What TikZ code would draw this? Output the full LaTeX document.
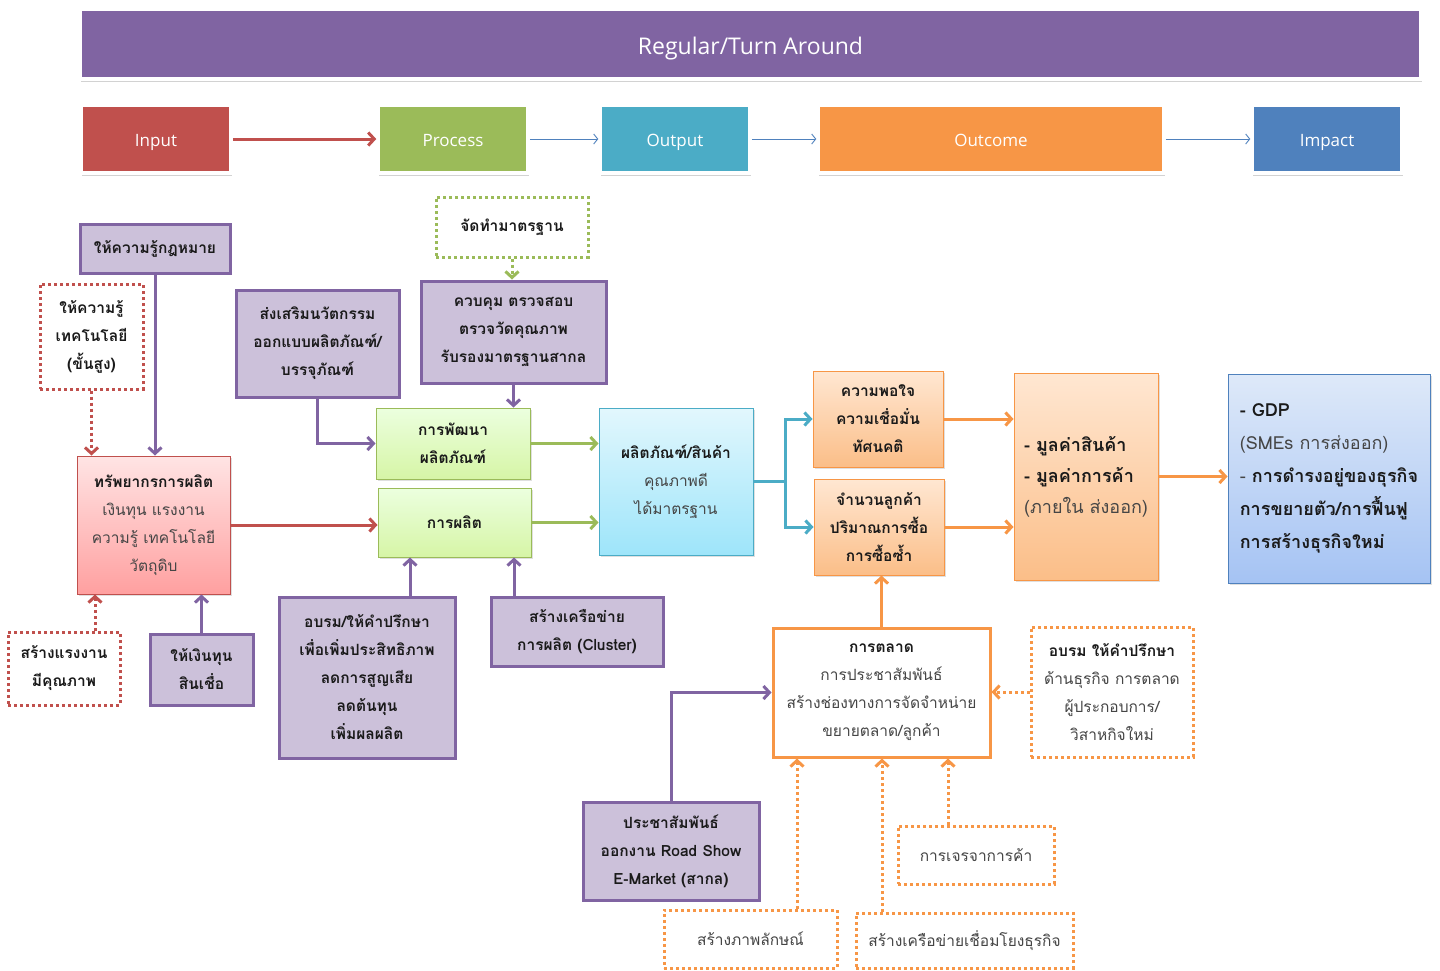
\documentclass[tikz,border=0pt]{standalone}
\usepackage{fontspec}
\setmainfont{Open Sans}
\newfontfamily\thai[Script=Thai]{Loma}
\usetikzlibrary{arrows.meta,shadows,calc}
\definecolor{pur}{HTML}{8064A2}
\definecolor{purf}{HTML}{CCC1DA}
\definecolor{red1}{HTML}{C0504D}
\definecolor{grn}{HTML}{9BBB59}
\definecolor{teal1}{HTML}{4BACC6}
\definecolor{org}{HTML}{F79646}
\definecolor{blu}{HTML}{4F81BD}
\definecolor{txt}{HTML}{1A1A1A}
\definecolor{gtx}{HTML}{454545}
\newcommand{\bx}[7]{\node[#6, minimum width={(#4-#2)*1pt}, minimum height={(#5-#3)*1pt}] (#1) at ({(#2+#4)/2},{(#3+#5)/2}) {#7};}
\newcommand{\gr}{\color{gtx}\mdseries}
\tikzset{
  shd/.style={drop shadow={opacity=0.25,shadow xshift=1.5pt,shadow yshift=-2pt}},
  base/.style={inner sep=0pt, align=center, font=\thai\bfseries\fontsize{15.5}{28}\selectfont, text=txt},
  hdr/.style={draw=white, line width=3.5pt, text=white, text height=14.1pt, text depth=0pt, font=\fontsize{17}{20}\selectfont, drop shadow={opacity=0.35,shadow xshift=1pt,shadow yshift=-2.5pt}},
  pbox/.style={base, fill=purf, draw=pur, line width=3pt, shd},
  rdot/.style={base, fill=white, draw=red1, line width=3pt, dash pattern=on 3pt off 3pt},
  gdot/.style={base, fill=white, draw=grn, line width=3pt, dash pattern=on 3pt off 3pt},
  odot/.style={base, fill=white, draw=org, line width=3pt, dash pattern=on 3pt off 3pt},
  gbox/.style={base, draw=grn, line width=1pt, top color=green!8!white!95!yellow, bottom color={rgb,255:red,214;green,245;blue,166}, shd},
  cbox/.style={base, draw=teal1, line width=1pt, top color={rgb,255:red,226;green,247;blue,253}, bottom color={rgb,255:red,158;green,229;blue,250}, shd},
  rbox/.style={base, draw=red1, line width=1pt, top color={rgb,255:red,255;green,228;blue,228}, bottom color={rgb,255:red,255;green,160;blue,160}, shd},
  obox/.style={base, draw=org, line width=1pt, top color={rgb,255:red,255;green,231;blue,210}, bottom color={rgb,255:red,251;green,190;blue,136}, shd},
  bbox/.style={base, draw=blu, line width=1pt, top color={rgb,255:red,222;green,233;blue,249}, bottom color={rgb,255:red,165;green,195;blue,243}, shd},
  wbox/.style={base, fill=white, draw=org, line width=3pt},
  tip/.style={-{Straight Barb[length=6pt,width=13pt]}},
  parr/.style={draw=pur, line width=3pt, tip},
  rarr/.style={draw=red1, line width=3pt, tip},
  garr/.style={draw=grn, line width=3pt, tip},
  tarr/.style={draw=teal1, line width=3pt, tip},
  oarr/.style={draw=org, line width=3pt, tip},
  dotted3/.style={dash pattern=on 3pt off 3pt},
  thin/.style={draw=blu, line width=0.9pt, -{Straight Barb[length=4pt,width=10pt]}},
}
\begin{document}
\begin{tikzpicture}[x=1pt,y=-1pt]
\useasboundingbox[fill=white] (0,0) rectangle (1440,970);
% header
\bx{top}{80}{9}{1421}{79}{hdr, fill=pur, text height=20.4pt, font=\fontsize{23}{26}\selectfont}{Regular/Turn Around}
\bx{hin}{81}{105}{231}{173}{hdr, fill=red1}{Input}
\bx{hpr}{378}{105}{528}{173}{hdr, fill=grn}{Process}
\bx{hou}{600}{105}{750}{173}{hdr, fill=teal1}{Output}
\bx{hoc}{818}{105}{1164}{173}{hdr, fill=org}{Outcome}
\bx{him}{1252}{105}{1402}{173}{hdr, fill=blu}{Impact}
\draw[rarr] (hin.east) -- (hpr.west);
\draw[thin] (hpr.east) -- (hou.west);
\draw[thin] (hou.east) -- (hoc.west);
\draw[thin] (hoc.east) -- (him.west);
% boxes
\bx{a1}{80}{224}{230}{273}{pbox}{ให้ความรู้กฎหมาย}
\bx{a2}{40}{284}{143}{389}{rdot}{ให้ความรู้\\เทคโนโลยี\\(ขั้นสูง)}
\bx{a3}{236}{290}{399}{397}{pbox}{ส่งเสริมนวัตกรรม\\ออกแบบผลิตภัณฑ์/\\บรรจุภัณฑ์}
\bx{a4}{436}{197}{588}{257}{gdot}{จัดทำมาตรฐาน}
\bx{a5}{421}{281}{606}{383}{pbox}{ควบคุม ตรวจสอบ\\ตรวจวัดคุณภาพ\\รับรองมาตรฐานสากล}
\bx{dev}{376}{408}{530}{479}{gbox}{การพัฒนา\\ผลิตภัณฑ์}
\bx{prod}{378}{488}{531}{557}{gbox}{การผลิต}
\bx{pq}{599}{408}{753}{555}{cbox}{ผลิตภัณฑ์/สินค้า\\{\gr คุณภาพดี}\\{\gr ได้มาตรฐาน}}
\bx{res}{77}{456}{230}{594}{rbox}{ทรัพยากรการผลิต\\{\gr เงินทุน แรงงาน}\\{\gr ความรู้ เทคโนโลยี}\\{\gr วัตถุดิบ}}
\bx{lab}{8}{632}{120}{705}{rdot}{สร้างแรงงาน\\มีคุณภาพ}
\bx{fund}{150}{634}{253}{705}{pbox}{ให้เงินทุน\\สินเชื่อ}
\bx{trn}{279}{597}{455}{758}{pbox}{อบรม/ให้คำปรึกษา\\เพื่อเพิ่มประสิทธิภาพ\\ลดการสูญเสีย\\ลดต้นทุน\\เพิ่มผลผลิต}
\bx{clu}{491}{597}{663}{666}{pbox}{สร้างเครือข่าย\\การผลิต (Cluster)}
\bx{sat}{813}{371}{943}{467}{obox}{ความพอใจ\\ความเชื่อมั่น\\ทัศนคติ}
\bx{cus}{814}{479}{944}{575}{obox}{จำนวนลูกค้า\\ปริมาณการซื้อ\\การซื้อซ้ำ}
\bx{val}{1014}{373}{1158}{580}{obox, align=left, font=\thai\bfseries\fontsize{18}{31}\selectfont}{- มูลค่าสินค้า\\- มูลค่าการค้า\\{\gr (ภายใน ส่งออก)}}
\bx{imp}{1228}{374}{1430}{583}{bbox, align=left, font=\thai\bfseries\fontsize{18}{33}\selectfont}{- GDP\\{\gr (SMEs การส่งออก)}\\{\gr -} การดำรงอยู่ของธุรกิจ\\การขยายตัว/การฟื้นฟู\\การสร้างธุรกิจใหม่}
\bx{mkt}{773}{628}{990}{757}{wbox}{การตลาด\\{\gr การประชาสัมพันธ์}\\{\gr สร้างช่องทางการจัดจำหน่าย}\\{\gr ขยายตลาด/ลูกค้า}}
\bx{adv}{1031}{627}{1193}{757}{odot}{อบรม ให้คำปรึกษา\\{\gr ด้านธุรกิจ การตลาด}\\{\gr ผู้ประกอบการ/}\\{\gr วิสาหกิจใหม่}}
\bx{pr2}{583}{802}{759}{900}{pbox}{ประชาสัมพันธ์\\ออกงาน Road Show\\E-Market (สากล)}
\bx{neg}{898}{826}{1054}{884}{odot}{\gr การเจรจาการค้า}
\bx{img}{664}{910}{837}{968}{odot}{\gr สร้างภาพลักษณ์}
\bx{net}{856}{913}{1073}{968}{odot}{\gr สร้างเครือข่ายเชื่อมโยงธุรกิจ}
% connectors
\draw[parr] (a1.south) -- (a1.south |- res.north);
\draw[rarr, dotted3] (a2.south) -- (a2.south |- res.north);
\draw[parr] (a3.south) |- (dev.west);
\draw[garr, dotted3] (a4.south) -- (a4.south |- a5.north);
\draw[parr] (a5.south) -- (a5.south |- dev.north);
\draw[rarr] (res.east) -- (res.east -| prod.west);
\draw[garr] (dev.east) -- (dev.east -| pq.west);
\draw[garr] (prod.east) -- (prod.east -| pq.west);
\draw[parr] ([xshift=43pt]trn.north) -- ([xshift=43pt]trn.north |- prod.south);
\draw[parr] ([xshift=-63pt]clu.north) -- ([xshift=-63pt]clu.north |- prod.south);
\draw[parr] (fund.north) -- (fund.north |- res.south);
\draw[rarr, dotted3] ([xshift=31pt]lab.north) -- ([xshift=31pt]lab.north |- res.south);
\draw[tarr] (pq.east) -- ++(32,0) |- (sat.west);
\draw[tarr] (pq.east) -- ++(32,0) |- (cus.west);
\draw[oarr] (sat.east) -- (sat.east -| val.west);
\draw[oarr] (cus.east) -- (cus.east -| val.west);
\draw[oarr] (val.east) -- (val.east -| imp.west);
\draw[oarr] (mkt.north) -- (mkt.north |- cus.south);
\draw[oarr, dotted3] (adv.west) -- (adv.west -| mkt.east);
\draw[parr] (pr2.north) |- (mkt.west);
\draw[oarr, dotted3] ([xshift=46.5pt]img.north) -- ([xshift=46.5pt]img.north |- mkt.south);
\draw[oarr, dotted3] ([xshift=-82.5pt]net.north) -- ([xshift=-82.5pt]net.north |- mkt.south);
\draw[oarr, dotted3] ([xshift=-28pt]neg.north) -- ([xshift=-28pt]neg.north |- mkt.south);
\end{tikzpicture}
\end{document}
